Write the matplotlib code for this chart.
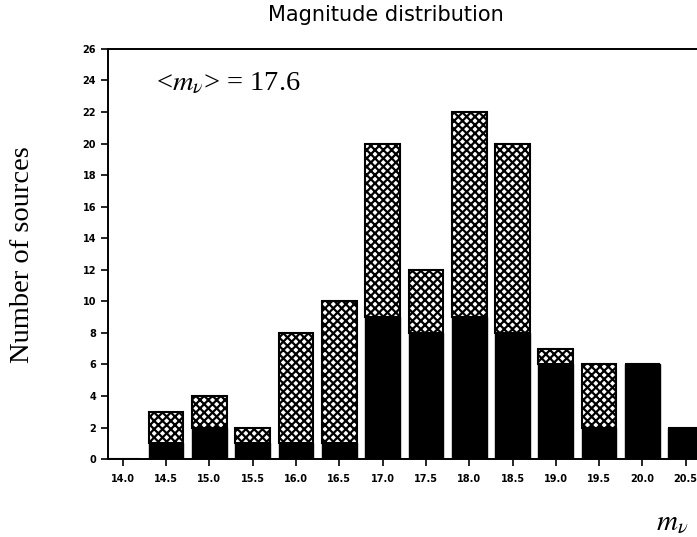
import matplotlib
matplotlib.use("Agg")
import matplotlib.pyplot as plt
import numpy as np

magnitudes = [14.0, 14.5, 15.0, 15.5, 16.0, 16.5, 17.0, 17.5, 18.0, 18.5, 19.0, 19.5, 20.0, 20.5]
solid_counts = [0, 1, 2, 1, 1, 1, 9, 8, 9, 8, 6, 2, 6, 2]
total_counts = [0, 3, 4, 2, 8, 10, 20, 12, 22, 20, 7, 6, 6, 2]
xtick_labels = ["14.0", "14.5", "15.0", "15.5", "16.0", "16.5", "17.0", "17.5",
                "18.0", "18.5", "19.0", "19.5", "20.0", "20.5"]
yticks = list(range(0, 27, 2))

plt.rcParams['hatch.linewidth'] = 1.6
plt.rcParams['mathtext.fontset'] = 'stix'

fig = plt.figure(figsize=(6.97, 5.37), dpi=100)
ax = fig.add_axes([0.155, 0.145, 0.845, 0.764])

x = np.array(magnitudes)
solid = np.array(solid_counts)
hatched = np.array(total_counts) - solid

ax.bar(x, solid, width=0.4, color='black', edgecolor='black', linewidth=1.0)
ax.bar(x, hatched, width=0.4, bottom=solid, color='white', edgecolor='black',
       hatch='xxxx', linewidth=1.5)

ax.set_xlim(13.83, 20.63)
ax.set_ylim(0, 26)
ax.set_xticks(magnitudes)
ax.set_xticklabels(xtick_labels)
ax.set_yticks(yticks)
ax.tick_params(axis='both', direction='out', length=5, width=1.2, labelsize=7)
for lab in ax.get_xticklabels() + ax.get_yticklabels():
    lab.set_fontweight('bold')
ax.tick_params(axis='x', pad=6)

ax.spines['right'].set_visible(False)
for s in ['top', 'left', 'bottom']:
    ax.spines[s].set_linewidth(1.4)

fig.text(0.553, 0.972, "Magnitude distribution", ha='center', va='center',
         fontsize=15, family='DejaVu Sans')
fig.text(0.032, 0.525, "Number of sources", rotation=90, ha='center', va='center',
         fontsize=20.5, family='Liberation Serif')
fig.text(0.328, 0.845, r"<$m_\nu$> = 17.6", ha='center', va='center',
         fontsize=20.5, family='Liberation Serif')
fig.text(0.965, 0.028, r"$m_\nu$", ha='center', va='center', fontsize=21)

fig.savefig("out.png", dpi=100)
